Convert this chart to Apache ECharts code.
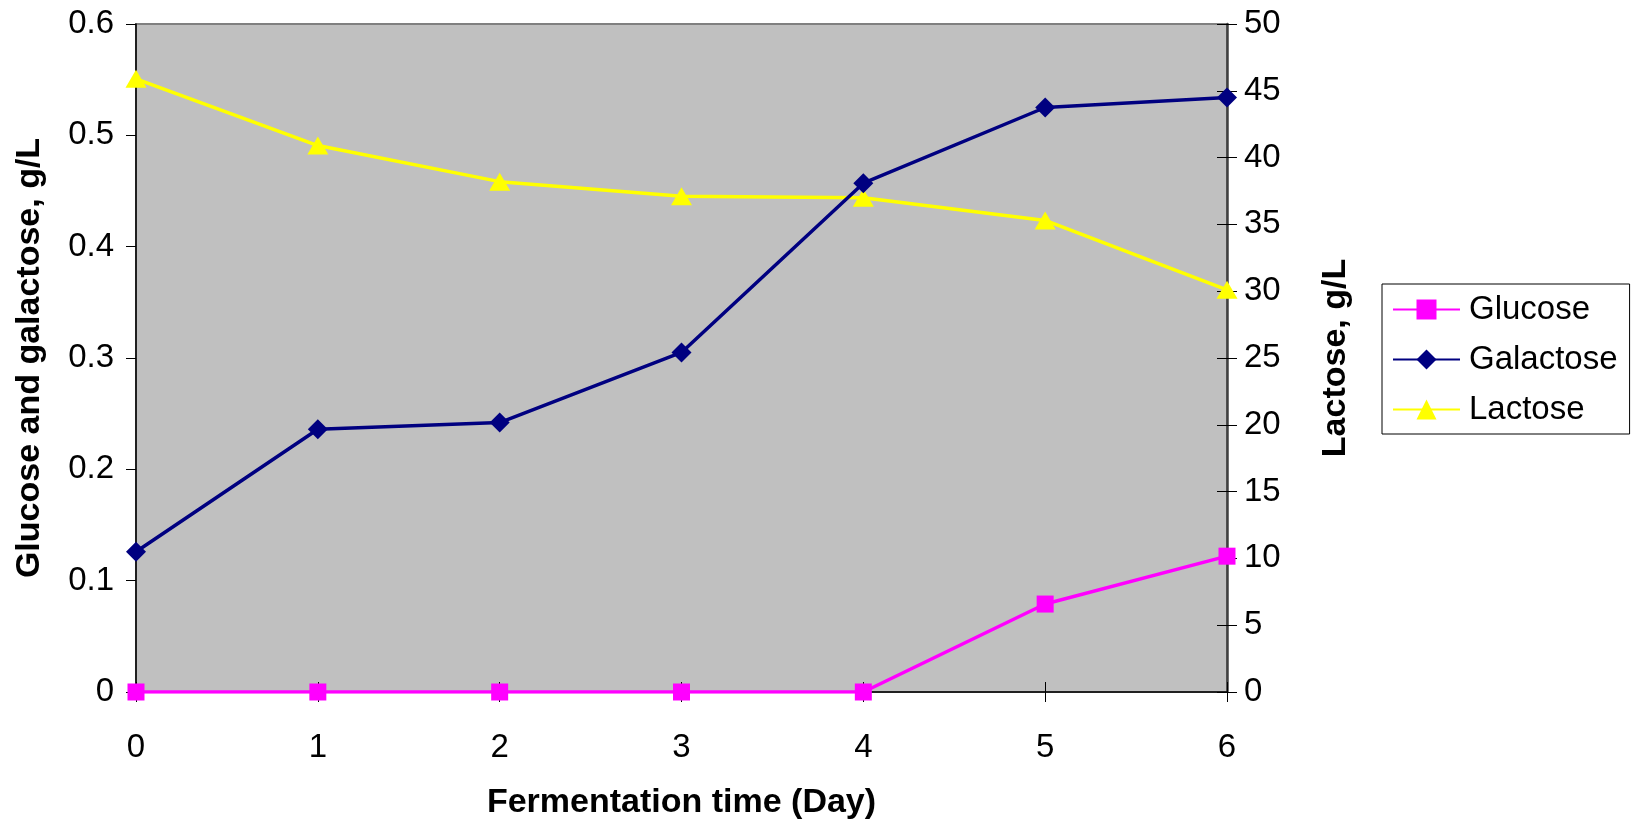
<!DOCTYPE html>
<html>
<head>
<meta charset="utf-8">
<script src="https://cdn.jsdelivr.net/npm/echarts@6/dist/echarts.min.js"></script>
<style>
  html, body { margin: 0; padding: 0; background: #fff; }
  #chart { width: 1632px; height: 822px; }
</style>
</head>
<body>
<div id="chart"></div>
<script>
// fermentation days
const days = ['0', '1', '2', '3', '4', '5', '6'];
// g/L, left axis
const glucose = [0, 0, 0, 0, 0, 0.079, 0.122];
const galactose = [0.126, 0.236, 0.242, 0.305, 0.457, 0.525, 0.534];
// g/L, right axis
const lactose = [45.9, 40.9, 38.2, 37.1, 37.0, 35.3, 30.1];

const FONT = 'Liberation Sans, Arial, sans-serif';
const FS = 33;   // tick labels, legend
const FT = 34;   // axis titles

let chart = echarts.init(document.getElementById('chart'));

chart.setOption({
  animation: false,
  textStyle: { fontFamily: FONT },
  grid: {
    left: 136,
    right: 405,
    top: 24,
    bottom: 130,
    outerBoundsMode: 'none',
    show: true,
    backgroundColor: '#c0c0c0',
    borderColor: '#808080',
    borderWidth: 2
  },
  legend: {
    orient: 'vertical',
    left: 1382,
    top: 284,
    width: 247,
    padding: [9, 12, 8, 10],
    itemWidth: 67,
    itemHeight: 25,
    itemGap: 17,
    backgroundColor: '#fff',
    borderColor: '#000',
    borderWidth: 1,
    textStyle: { fontSize: FS, color: '#000', fontFamily: FONT, padding: [0, 0, 0, 4] },
    data: ['Glucose', 'Galactose', 'Lactose']
  },
  xAxis: [
    {
      type: 'category',
      data: days,
      boundaryGap: false,
      name: 'Fermentation time (Day)',
      nameLocation: 'middle',
      nameGap: 94,
      nameTextStyle: { fontSize: FT, fontWeight: 'bold', color: '#000' },
      axisLine: { lineStyle: { color: '#000', width: 1.5 } },
      axisTick: { show: true, length: 10, inside: false, lineStyle: { color: '#000' } },
      axisLabel: { fontSize: FS, color: '#000', margin: 39 },
      splitLine: { show: false }
    },
    {
      type: 'category',
      data: days,
      boundaryGap: false,
      position: 'bottom',
      axisLine: { show: false },
      axisTick: { show: true, length: 10, inside: true, lineStyle: { color: '#000' } },
      axisLabel: { show: false },
      splitLine: { show: false }
    }
  ],
  yAxis: [
    {
      type: 'value',
      min: 0,
      max: 0.6,
      interval: 0.1,
      position: 'left',
      name: 'Glucose and galactose, g/L',
      nameLocation: 'middle',
      nameGap: 89,
      nameTextStyle: { fontSize: FT, fontWeight: 'bold', color: '#000' },
      axisLine: { show: true, lineStyle: { color: '#000', width: 1.5 } },
      axisTick: { show: true, length: 10, lineStyle: { color: '#000' } },
      axisLabel: { fontSize: FS, color: '#000', margin: 22 },
      splitLine: { show: false }
    },
    {
      type: 'value',
      min: 0,
      max: 50,
      interval: 5,
      position: 'right',
      name: 'Lactose, g/L',
      nameLocation: 'middle',
      nameRotate: 90,
      nameGap: 92,
      nameTextStyle: { fontSize: FT, fontWeight: 'bold', color: '#000' },
      axisLine: { show: true, lineStyle: { color: '#404040', width: 2.5 } },
      axisTick: { show: true, length: 10, lineStyle: { color: '#000' } },
      axisLabel: { fontSize: FS, color: '#000', margin: 17 },
      splitLine: { show: false }
    },
    {
      type: 'value',
      min: 0,
      max: 50,
      interval: 5,
      position: 'right',
      axisLine: { show: false },
      axisTick: { show: true, length: 10, inside: true, lineStyle: { color: '#000' } },
      axisLabel: { show: false },
      splitLine: { show: false }
    }
  ],
  series: [
    {
      name: 'Glucose',
      type: 'line',
      yAxisIndex: 0,
      data: glucose,
      symbol: 'rect',
      symbolSize: 17,
      lineStyle: { color: '#ff00ff', width: 3.5 },
      itemStyle: { color: '#ff00ff' },
      z: 4
    },
    {
      name: 'Galactose',
      type: 'line',
      yAxisIndex: 0,
      data: galactose,
      symbol: 'diamond',
      symbolSize: [20, 20],
      lineStyle: { color: '#000080', width: 3.5 },
      itemStyle: { color: '#000080' },
      z: 3
    },
    {
      name: 'Lactose',
      type: 'line',
      yAxisIndex: 1,
      data: lactose,
      symbol: 'triangle',
      symbolSize: [21, 18],
      lineStyle: { color: '#ffff00', width: 3.5 },
      itemStyle: { color: '#ffff00' },
      z: 2
    }
  ]
});
</script>
</body>
</html>
